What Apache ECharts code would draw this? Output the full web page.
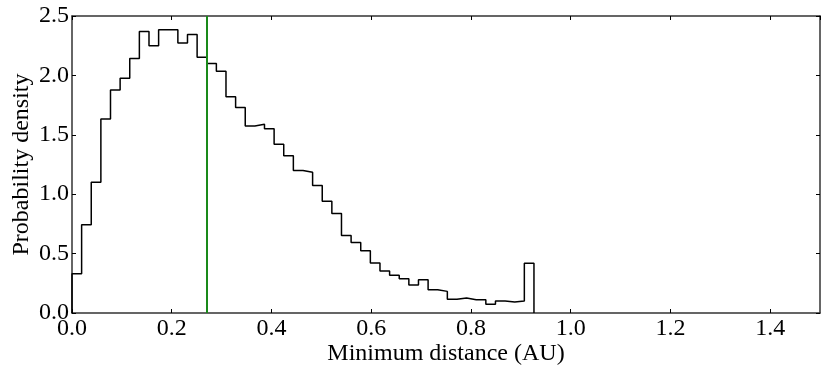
<!DOCTYPE html>
<html>
<head>
<meta charset="utf-8">
<script src="https://cdn.jsdelivr.net/npm/echarts@6/dist/echarts.min.js"></script>
<style>
html,body{margin:0;padding:0;background:#fff;}
#chart{width:830px;height:377px;}
</style>
</head>
<body>
<div id="chart"></div>
<script>
// Histogram: 48 bins starting at 0, each binWidth wide
const binStart = 0;
const binWidth = 0.0193;
const densities = [
  0.33, 0.743, 1.10, 1.633, 1.877, 1.975, 2.143, 2.370, 2.25, 2.385,
  2.385, 2.273, 2.345, 2.152, 2.10, 2.034, 1.82, 1.73, 1.574, 1.588,
  1.551, 1.42, 1.324, 1.20, 1.184, 1.074, 0.94, 0.838, 0.653, 0.594,
  0.524, 0.421, 0.354, 0.317, 0.289, 0.236, 0.280, 0.196, 0.182, 0.115,
  0.126, 0.112, 0.112, 0.073, 0.101, 0.093, 0.101, 0.418
];
const markerX = 0.27;
const xTicks = [0.0, 0.2, 0.4, 0.6, 0.8, 1.0, 1.2, 1.4];
const yTicks = [0.0, 0.5, 1.0, 1.5, 2.0, 2.5];
const xLabel = 'Minimum distance (AU)';
const yLabel = 'Probability density';

// step series: [left edge, density], closed at both ends
const stepData = [[binStart, 0]];
densities.forEach((v, i) => stepData.push([binStart + i * binWidth, v]));
stepData.push([binStart + densities.length * binWidth, 0]);

const font = 'Liberation Serif';
const axisColor = '#333';
const tickCommon = {show: true, inside: true, length: 4, lineStyle: {color: '#000', width: 1}};
const lineCommon = {show: true, onZero: false, lineStyle: {color: axisColor, width: 1.5}};

const chart = echarts.init(document.getElementById('chart'));
chart.setOption({
  animation: false,
  backgroundColor: '#fff',
  grid: {left: 72, right: 10, top: 16, bottom: 64, containLabel: false, outerBoundsMode: 'none'},
  xAxis: [{
    type: 'value', min: 0, max: 1.5, interval: 0.2, position: 'bottom',
    name: xLabel, nameLocation: 'middle', nameGap: 29, nameMoveOverlap: false,
    nameTextStyle: {fontFamily: font, fontSize: 24, color: '#000'},
    axisLine: lineCommon,
    axisTick: tickCommon,
    splitLine: {show: false},
    axisLabel: {fontFamily: font, fontSize: 24, color: '#000', margin: 4, showMaxLabel: false,
      formatter: v => xTicks.some(t => Math.abs(t - v) < 1e-9) ? v.toFixed(1) : ''}
  }, {
    type: 'value', min: 0, max: 1.5, interval: 0.2, position: 'top',
    axisLine: lineCommon,
    axisTick: tickCommon, axisLabel: {show: false}, splitLine: {show: false}
  }],
  yAxis: [{
    type: 'value', min: 0, max: 2.5, interval: 0.5, position: 'left',
    name: yLabel, nameLocation: 'middle', nameGap: 38, nameRotate: 90, nameMoveOverlap: false,
    nameTextStyle: {fontFamily: font, fontSize: 24, color: '#000'},
    axisLine: lineCommon,
    axisTick: tickCommon,
    splitLine: {show: false},
    axisLabel: {fontFamily: font, fontSize: 24, color: '#000', margin: 3,
      formatter: v => yTicks.some(t => Math.abs(t - v) < 1e-9) ? v.toFixed(1) : ''}
  }, {
    type: 'value', min: 0, max: 2.5, interval: 0.5, position: 'right',
    axisLine: lineCommon,
    axisTick: tickCommon, axisLabel: {show: false}, splitLine: {show: false}
  }],
  series: [{
    type: 'line',
    step: 'end',
    data: stepData,
    showSymbol: false,
    symbol: 'none',
    lineStyle: {color: '#000', width: 1.5},
    z: 3,
    markLine: {
      silent: true,
      symbol: ['none', 'none'],
      label: {show: false},
      lineStyle: {color: '#1a8a1a', width: 2, type: 'solid'},
      data: [{xAxis: markerX}]
    }
  }]
});
</script>
</body>
</html>
